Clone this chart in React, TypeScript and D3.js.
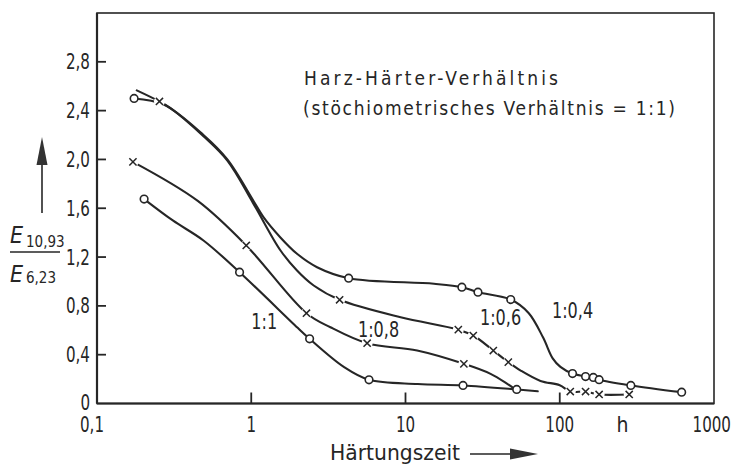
import * as React from 'react';
import { line, curveCatmullRom, scaleLog, scaleLinear, select } from 'd3';

// [x (h), y, marker? 1 = yes]
const ratio11: [number, number, number][] = [
    [0.202, 1.675, 1], [0.31, 1.5, 0], [0.49, 1.336, 0], [0.84, 1.076, 1], [2.0, 0.62, 0], [2.39, 0.53, 1],
    [3.98, 0.3, 0], [5.8, 0.194, 1], [12, 0.16, 0], [23.6, 0.148, 1], [52.6, 0.115, 1], [72, 0.1, 0]
];
const ratio08: [number, number, number][] = [
    [0.171, 1.98, 1], [0.45, 1.66, 0], [0.928, 1.295, 1], [2.28, 0.74, 1], [3.26, 0.625, 0], [5.64, 0.494, 1],
    [11.9, 0.434, 0], [23.9, 0.325, 1], [35.6, 0.243, 0], [45.7, 0.161, 0], [51, 0.12, 0]
];
const ratio06: [number, number, number][] = [
    [0.181, 2.566, 0], [0.254, 2.475, 1], [0.3, 2.42, 0], [0.49, 2.19, 0], [0.7, 1.99, 0], [1.03, 1.64, 0],
    [1.54, 1.258, 0], [1.98, 1.09, 0], [2.54, 0.967, 0], [3.74, 0.85, 1], [9.3, 0.707, 0], [22, 0.605, 1],
    [27.5, 0.557, 1], [37.1, 0.434, 1], [46.4, 0.339, 1], [55.8, 0.27, 0], [75, 0.185, 0], [100, 0.15, 0],
    [117, 0.098, 1], [147, 0.098, 1], [180, 0.074, 1], [282, 0.074, 1]
];
const ratio04: [number, number, number][] = [
    [0.174, 2.5, 1], [0.27, 2.45, 0], [0.49, 2.2, 0], [0.7, 2.0, 0], [1.03, 1.664, 0], [1.2, 1.527, 0],
    [1.54, 1.363, 0], [1.98, 1.227, 0], [2.67, 1.117, 0], [4.28, 1.027, 1], [15.3, 0.981, 0], [23.2, 0.953, 1],
    [29.5, 0.912, 1], [48.1, 0.852, 1], [63, 0.74, 0], [78, 0.54, 0], [90, 0.37, 0], [101, 0.3, 0],
    [121, 0.245, 1], [147, 0.221, 1], [165, 0.214, 1], [180, 0.195, 1], [289, 0.148, 1], [617, 0.093, 1]
];

const seriesNames = ["1:1", "1:0,8", "1:0,6", "1:0,4"];
const seriesMarks = ["circle", "cross", "cross", "circle"];
const seriesData = [ratio11, ratio08, ratio06, ratio04];
// label anchor (x, y) in data units
const labelPos: [number, number][] = [[1.0, 0.61], [4.92, 0.545], [30.4, 0.643], [89, 0.7]];

const xTicks = [0.1, 1, 10, 100, 1000];
const xTickLabels = ["0,1", "1", "10", "100", "1000"];
const yTicks = [0, 0.4, 0.8, 1.2, 1.6, 2.0, 2.4, 2.8];

const INK = "#262626";
const FONT = "'DejaVu Sans Condensed', 'DejaVu Sans', sans-serif";

// the original lettering is a narrow DIN face, so squeeze the glyphs a bit
const squeeze = (t: any, f: number) => {
    const node = t.node() as SVGTextElement;
    const w = node.getComputedTextLength();
    t.attr("textLength", w * f).attr("lengthAdjust", "spacingAndGlyphs");
    return t;
};

const App = () => {
    const svgRef = React.useRef<SVGSVGElement>(null);

    React.useEffect(() => {
        const svg = select(svgRef.current);
        svg.selectAll("*").remove();

        const x = scaleLog().domain([0.1, 1000]).range([97, 714]);
        const y = scaleLinear().domain([0, 3.2]).range([403.5, 13]);

        // frame
        svg.append("rect")
            .attr("x", 97).attr("y", 13).attr("width", 617).attr("height", 390.5)
            .attr("fill", "none").attr("stroke", INK).attr("stroke-width", 1.6);
        svg.append("line").attr("x1", 97).attr("x2", 714).attr("y1", y(0)).attr("y2", y(0))
            .attr("stroke", INK).attr("stroke-width", 2.2);
        svg.append("line").attr("x1", 97).attr("x2", 97).attr("y1", 13).attr("y2", y(0))
            .attr("stroke", INK).attr("stroke-width", 2.2);

        // y ticks
        const fmt = (v: number) => v === 0 ? "0" : v.toFixed(1).replace(".", ",");
        yTicks.forEach(t => {
            if (t > 0) {
                svg.append("line").attr("x1", 97).attr("x2", 106).attr("y1", y(t)).attr("y2", y(t))
                    .attr("stroke", INK).attr("stroke-width", 1.8);
            }
            const lbl = svg.append("text").attr("x", 90).attr("y", y(t) - (t === 0 ? 1.5 : 0)).attr("dy", "0.36em")
                .attr("text-anchor", "end").attr("font-size", 21).attr("font-family", FONT)
                .attr("fill", INK).text(fmt(t));
            squeeze(lbl, 0.8);
        });

        // x ticks
        xTicks.forEach((t, i) => {
            if (t > 0.1 && t < 1000) {
                svg.append("line").attr("x1", x(t)).attr("x2", x(t)).attr("y1", y(0)).attr("y2", y(0) - 11)
                    .attr("stroke", INK).attr("stroke-width", 1.8);
            }
            const last = i === xTicks.length - 1;
            const lbl = svg.append("text").attr("x", last ? x(t) + 17 : x(t) - (i === 0 ? 5 : 0)).attr("y", 432)
                .attr("text-anchor", last ? "end" : "middle").attr("font-size", 21).attr("font-family", FONT)
                .attr("fill", INK).text(xTickLabels[i]);
            squeeze(lbl, 0.8);
        });
        svg.append("text").attr("x", x(255)).attr("y", 432).attr("text-anchor", "middle")
            .attr("font-size", 21).attr("font-family", FONT).attr("fill", INK).text("h");

        // x title + arrow
        svg.append("text").attr("x", 330).attr("y", 460).attr("font-size", 22).attr("font-family", FONT)
            .attr("fill", INK).attr("textLength", 130).attr("lengthAdjust", "spacingAndGlyphs").text("Härtungszeit");
        svg.append("line").attr("x1", 470).attr("x2", 512).attr("y1", 454).attr("y2", 454)
            .attr("stroke", INK).attr("stroke-width", 1.6);
        svg.append("path").attr("d", "M510,448.5 L538,454 L510,459.5 Z").attr("fill", "#333");

        // y title: fraction + arrow
        svg.append("line").attr("x1", 42).attr("x2", 42).attr("y1", 213).attr("y2", 160)
            .attr("stroke", INK).attr("stroke-width", 1.6);
        svg.append("path").attr("d", "M42,137 L47.5,165 L36.5,165 Z").attr("fill", "#333");
        const num = svg.append("text").attr("font-family", FONT).attr("fill", INK);
        num.append("tspan").attr("x", 10).attr("y", 243).attr("font-size", 23).attr("font-style", "italic").text("E");
        num.append("tspan").attr("x", 26).attr("y", 247).attr("font-size", 15).text("10,93");
        svg.append("line").attr("x1", 10).attr("x2", 60).attr("y1", 252).attr("y2", 252)
            .attr("stroke", INK).attr("stroke-width", 1.5);
        const den = svg.append("text").attr("font-family", FONT).attr("fill", INK);
        den.append("tspan").attr("x", 10).attr("y", 282).attr("font-size", 23).attr("font-style", "italic").text("E");
        den.append("tspan").attr("x", 26).attr("y", 283).attr("font-size", 15).text("6,23");

        // heading inside plot
        svg.append("text").attr("x", 304).attr("y", 85).attr("font-size", 19).attr("font-family", FONT)
            .attr("fill", INK).attr("textLength", 254).attr("lengthAdjust", "spacing").text("Harz-Härter-Verhältnis");
        svg.append("text").attr("x", 303).attr("y", 115).attr("font-size", 19).attr("font-family", FONT)
            .attr("fill", INK).attr("textLength", 372).attr("lengthAdjust", "spacing")
            .text("(stöchiometrisches  Verhältnis = 1:1)");

        // curves
        const gen = line<[number, number, number]>()
            .x(d => x(d[0])).y(d => y(d[1]))
            .curve(curveCatmullRom.alpha(0.5));

        seriesData.forEach(s => {
            svg.append("path").attr("d", gen(s)).attr("fill", "none")
                .attr("stroke", INK).attr("stroke-width", 2.1).attr("stroke-linecap", "round");
        });

        // markers
        seriesData.forEach((s, i) => {
            const pts = s.filter(d => d[2] === 1);
            if (seriesMarks[i] === "circle") {
                svg.append("g").selectAll("circle").data(pts).join("circle")
                    .attr("cx", d => x(d[0])).attr("cy", d => y(d[1])).attr("r", 3.8)
                    .attr("fill", "white").attr("stroke", INK).attr("stroke-width", 1.6);
            } else {
                const g = svg.append("g").selectAll("g").data(pts).join("g")
                    .attr("transform", d => `translate(${x(d[0])},${y(d[1])})`);
                g.append("circle").attr("r", 5.5).attr("fill", "white");
                g.append("path").attr("d", "M-3.6,-3.6 L3.6,3.6 M-3.6,3.6 L3.6,-3.6")
                    .attr("stroke", INK).attr("stroke-width", 1.5);
            }
        });

        // series labels
        seriesNames.forEach((n, i) => {
            const lbl = svg.append("text").attr("x", x(labelPos[i][0])).attr("y", y(labelPos[i][1]))
                .attr("font-size", 21).attr("font-family", FONT).attr("fill", INK).text(n);
            squeeze(lbl, 0.85);
        });
    }, []);

    return (
        <svg ref={svgRef} width={735} height={466}
            style={{ position: 'absolute', left: 0, top: 0, background: 'white' }} />
    );
}

export default App;
